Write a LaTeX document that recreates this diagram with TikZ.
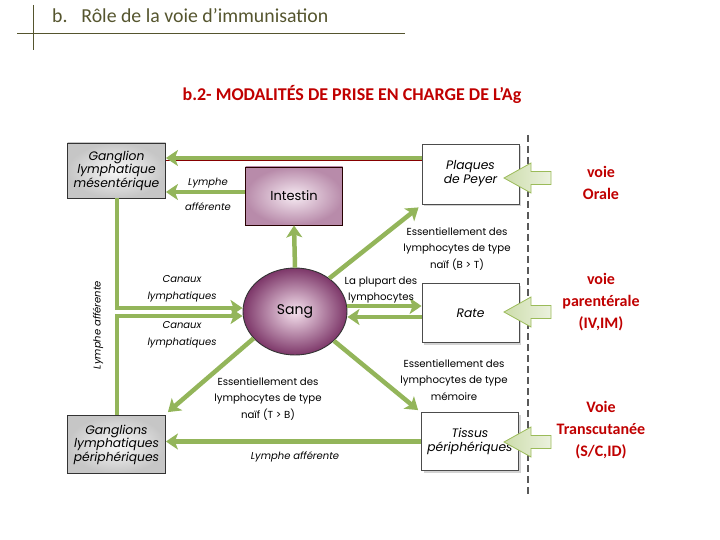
\documentclass[tikz,border=0pt]{standalone}
\usepackage{fontspec}
\setmainfont{Carlito}
\newfontfamily\diag{Poppins}
\usetikzlibrary{arrows.meta,shapes.geometric,shadows}
\definecolor{agreen}{HTML}{93B55A}
\definecolor{olive}{HTML}{55552E}
\definecolor{rtxt}{HTML}{C00000}
\definecolor{bagreen}{HTML}{9BBB59}
\definecolor{intout}{HTML}{B88BAA}
\definecolor{intin}{HTML}{F6EAF2}
\definecolor{sangin}{HTML}{F6E2EE}
\definecolor{sangout}{HTML}{7D3769}
\tikzset{
  garrow/.style={draw=agreen, line width=4.5pt, -{Stealth[length=12pt,width=16pt,inset=3pt]}},
  gbox/.style={draw=black!80, line width=0.8pt, shading=radial, inner color=gray!5, outer color=gray!45,
    minimum width=98pt, align=center, inner sep=1pt, font=\diag\itshape\fontsize{12.3}{13.5}\selectfont},
  wbox/.style={draw=black!70, line width=0.8pt, fill=white, minimum width=97pt, minimum height=59pt,
    align=center, inner sep=1pt, font=\diag\itshape\fontsize{12.3}{14}\selectfont,
    drop shadow={shadow xshift=2pt, shadow yshift=-2pt, opacity=0.35}},
  lbl/.style={align=center, font=\diag\fontsize{10.2}{16.5}\selectfont, inner sep=0pt},
  ilbl/.style={align=center, font=\diag\itshape\fontsize{10}{16.5}\selectfont, inner sep=0pt},
  rlbl/.style={align=center, text=rtxt, font=\bfseries\fontsize{16}{22}\selectfont, inner sep=0pt},
  barrow/.style={draw=bagreen, line width=0.8pt, left color=bagreen!50, right color=bagreen!20}
}
\begin{document}
\begin{tikzpicture}[x=1pt,y=-1pt]
\useasboundingbox (0,0) rectangle (720,540);
% header
\draw[olive, line width=0.8pt] (33,5) -- (33,50);
\draw[olive, line width=0.8pt] (17,33) -- (405,33);
\node[anchor=west, text=olive, font=\fontsize{19.8}{22}\selectfont, inner sep=0pt] (head) at (52,16) {b.\hspace{0.7em}Rôle de la voie d’immunisation};
\node[text=rtxt, font=\bfseries\fontsize{18}{20}\selectfont, inner sep=0pt] (sub) at (352,94) {b.2- MODALITÉS DE PRISE EN CHARGE DE L’Ag};
% dashed separator
\draw[gray!70!black, line width=1.5pt, dash pattern=on 7pt off 4pt] (528,135) -- (528,496);
% boxes
\node[gbox, minimum height=55pt] (gm) at (116.5,170.5) {Ganglion\\lymphatique\\mésentérique};
\node[gbox, minimum height=58pt] (gp) at (116.5,444.5) {Ganglions\\lymphatiques\\périphériques};
\node[wbox, minimum height=60pt] (pp) at (470.5,174) {Plaques\\de Peyer};
\node[wbox] (rate) at (470.5,313) {Rate};
\node[wbox, minimum height=58pt] (tp) at (470,441.5) {Tissus\\périphériques};
\node[draw=black!85!red, line width=0.9pt, shading=radial, inner color=intin, outer color=intout,
  minimum width=97pt, minimum height=58pt, font=\diag\fontsize{13}{13}\selectfont] (int) at (294,196) {Intestin};
\node[ellipse, draw=black!80, line width=0.9pt, shading=radial, inner color=sangin, outer color=sangout,
  minimum width=104pt, minimum height=87pt, font=\diag\fontsize{14}{14}\selectfont] (sang) at (295,311.5) {Sang};
% connectors
\draw[rtxt!70!black, line width=0.8pt] (pp.west |- 0,160.5) -- (gm.east |- 0,160.5);
\draw[garrow] (pp.west |- 0,158) -- (gm.east |- 0,158);
\draw[garrow] (int.west |- 0,192) -- (gm.east |- 0,192);
\draw[garrow] (gm.south -| 117,0) -- (117,308) -- (sang.west |- 0,308);
\draw[garrow] (gp.north -| 117,0) -- (117,316) -- (sang.west |- 0,316);
\draw[garrow] (sang.north) -- (int.south);
\draw[garrow] (sang.44) -- ([shift={(-3,3)}]pp.south west);
\draw[garrow] (sang.east |- 0,306) -- (rate.west |- 0,306);
\draw[garrow] (rate.west |- 0,317) -- (sang.east |- 0,317);
\draw[garrow] (sang.213) -- ([shift={(2,-3)}]gp.north east);
\draw[garrow] (sang.-37) -- ([shift={(-3,-2)}]tp.north west);
\draw[garrow] (tp.west) -- (gp.east |- tp.west);
% labels
\node[ilbl] (l1) at (208,183) {Lymphe};
\node[ilbl] (l2) at (208,207) {afférente};
\node[ilbl] (c1) at (182,289) {Canaux\\lymphatiques};
\node[ilbl] (c2) at (182,335) {Canaux\\lymphatiques};
\node[ilbl, rotate=90] (lv) at (98,325) {Lymphe afférente};
\node[lbl] (lp) at (381,290) {La plupart des\\lymphocytes};
\node[lbl] (e1) at (457,249) {Essentiellement des\\lymphocytes de type\\naïf (B > T)};
\node[lbl] (e2) at (454,380) {Essentiellement des\\lymphocytes de type\\mémoire};
\node[lbl] (e3) at (268,399) {Essentiellement des\\lymphocytes de type\\naïf (T > B)};
\node[ilbl] (la) at (295,457) {Lymphe afférente};
% block arrows
\foreach \yy in {178, 312, 442}{
  \draw[barrow] (504,\yy) -- (531,\yy-15) -- (531,\yy-6.5) -- (551,\yy-6.5) -- (551,\yy+6.5) -- (531,\yy+6.5) -- (531,\yy+15) -- cycle;
}
% route labels
\node[rlbl] (vo) at (601,183) {voie\\Orale};
\node[rlbl] (vp) at (601,302) {voie\\parentérale\\(IV,IM)};
\node[rlbl] (vt) at (601,430) {Voie\\Transcutanée\\(S/C,ID)};
\end{tikzpicture}
\end{document}
